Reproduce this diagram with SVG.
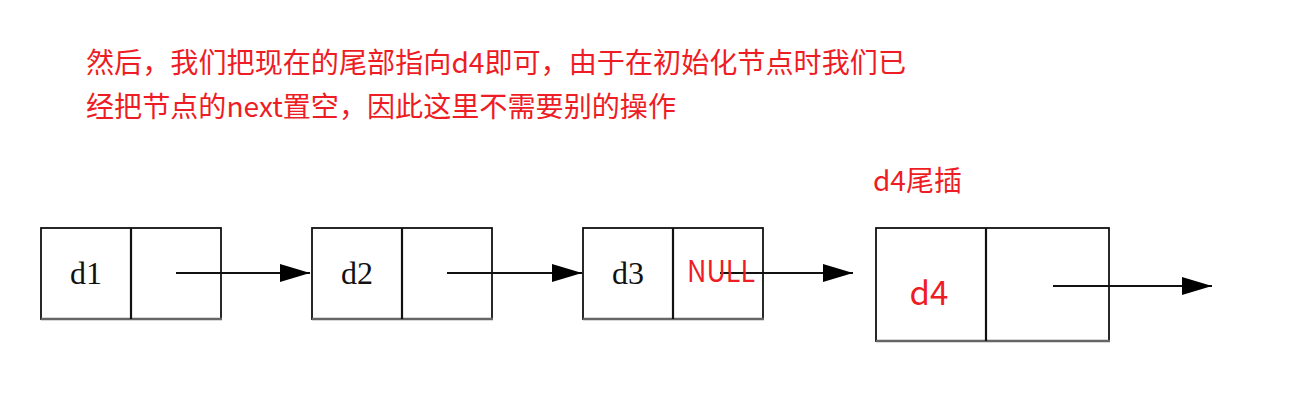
<svg xmlns="http://www.w3.org/2000/svg" width="1290" height="401" viewBox="0 0 1290 401">
<style>
.cjk{font-family:"Noto Sans CJK SC","Noto Sans",sans-serif;fill:#ee1c24}
.lbl{font-family:"Liberation Serif",serif;font-size:32px;fill:#111;text-anchor:middle}
.box{fill:#fff;stroke:#111;stroke-width:1.8}
.sh{stroke:#666;stroke-width:2.5}
.ln{stroke:#111;stroke-width:2.2;fill:none}
</style>
<defs>
<marker id="ah" markerWidth="30" markerHeight="20" refX="30" refY="10" orient="auto" markerUnits="userSpaceOnUse">
<path d="M0,1 L30,10 L0,19 Z" fill="#000"/>
</marker>
</defs>
<rect width="1290" height="401" fill="#fff"/>
<g id="caption">
<text class="cjk" x="86" y="73" font-size="28" textLength="820" lengthAdjust="spacingAndGlyphs">然后，我们把现在的尾部指向d4即可，由于在初始化节点时我们已</text>
<text class="cjk" x="86" y="117" font-size="28" textLength="590" lengthAdjust="spacingAndGlyphs">经把节点的next置空，因此这里不需要别的操作</text>
</g>
<g id="node-d1">
<rect class="box" x="41" y="228" width="180" height="91"/>
<line class="sh" x1="41" y1="319" x2="222" y2="319"/>
<line class="ln" x1="131" y1="228" x2="131" y2="319" stroke-width="1.8"/>
<text class="lbl" x="86" y="284">d1</text>
</g>
<g id="node-d2">
<rect class="box" x="312" y="228" width="180" height="91"/>
<line class="sh" x1="312" y1="319" x2="493" y2="319"/>
<line class="ln" x1="402" y1="228" x2="402" y2="319" stroke-width="1.8"/>
<text class="lbl" x="357" y="284">d2</text>
</g>
<g id="node-d3">
<rect class="box" x="583" y="228" width="180" height="91"/>
<line class="sh" x1="583" y1="319" x2="764" y2="319"/>
<line class="ln" x1="673" y1="228" x2="673" y2="319" stroke-width="1.8"/>
<text class="lbl" x="628" y="284">d3</text>
</g>
<g id="node-d4">
<text class="cjk" x="873" y="191" font-size="28">d4尾插</text>
<rect class="box" x="876" y="228" width="233" height="113" stroke-width="2.2"/>
<line class="sh" x1="876" y1="341" x2="1110" y2="341"/>
<line class="ln" x1="986" y1="228" x2="986" y2="341" stroke-width="2.4"/>
<text class="cjk" x="929" y="305" font-size="33" text-anchor="middle">d4</text>
</g>
<g id="connectors">
<line class="ln" x1="176" y1="273" x2="310" y2="273" marker-end="url(#ah)"/>
<line class="ln" x1="447" y1="273" x2="582" y2="273" marker-end="url(#ah)"/>
<line class="ln" x1="720" y1="273" x2="853" y2="273" marker-end="url(#ah)"/>
<line class="ln" x1="1053" y1="286" x2="1212" y2="286" marker-end="url(#ah)"/>
</g>
<text class="cjk" x="687" y="282" font-size="30" textLength="68" lengthAdjust="spacingAndGlyphs">NULL</text>
</svg>
